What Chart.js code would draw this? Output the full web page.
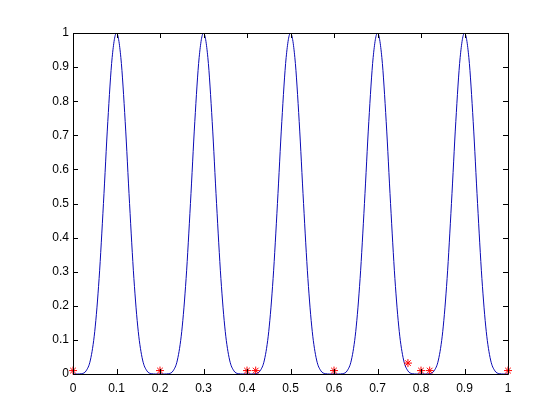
<!DOCTYPE html>
<html>
<head>
<meta charset="utf-8">
<script src="https://cdn.jsdelivr.net/npm/chart.js@4/dist/chart.umd.min.js"></script>
<style>
    body { margin: 0; background: #fff; }
    #wrap { width: 560px; height: 420px; }
</style>
</head>
<body>
<div id="wrap"><canvas id="waveChart" width="560" height="420"></canvas></div>
<script>
// curve samples, step 0.01
const curveX = [
    0, 0.01, 0.02, 0.03, 0.04, 0.05, 0.06, 0.07, 0.08, 0.09,
    0.1, 0.11, 0.12, 0.13, 0.14, 0.15, 0.16, 0.17, 0.18, 0.19,
    0.2, 0.21, 0.22, 0.23, 0.24, 0.25, 0.26, 0.27, 0.28, 0.29,
    0.3, 0.31, 0.32, 0.33, 0.34, 0.35, 0.36, 0.37, 0.38, 0.39,
    0.4, 0.41, 0.42, 0.43, 0.44, 0.45, 0.46, 0.47, 0.48, 0.49,
    0.5, 0.51, 0.52, 0.53, 0.54, 0.55, 0.56, 0.57, 0.58, 0.59,
    0.6, 0.61, 0.62, 0.63, 0.64, 0.65, 0.66, 0.67, 0.68, 0.69,
    0.7, 0.71, 0.72, 0.73, 0.74, 0.75, 0.76, 0.77, 0.78, 0.79,
    0.8, 0.81, 0.82, 0.83, 0.84, 0.85, 0.86, 0.87, 0.88, 0.89,
    0.9, 0.91, 0.92, 0.93, 0.94, 0.95, 0.96, 0.97, 0.98, 0.99,
    1
];
const curveY = [
    0, 0, 0.001, 0.009, 0.041, 0.125, 0.28, 0.5, 0.74, 0.928,
    1, 0.928, 0.74, 0.5, 0.28, 0.125, 0.041, 0.009, 0.001, 0,
    0, 0, 0.001, 0.009, 0.041, 0.125, 0.28, 0.5, 0.74, 0.928,
    1, 0.928, 0.74, 0.5, 0.28, 0.125, 0.041, 0.009, 0.001, 0,
    0, 0, 0.001, 0.009, 0.041, 0.125, 0.28, 0.5, 0.74, 0.928,
    1, 0.928, 0.74, 0.5, 0.28, 0.125, 0.041, 0.009, 0.001, 0,
    0, 0, 0.001, 0.009, 0.041, 0.125, 0.28, 0.5, 0.74, 0.928,
    1, 0.928, 0.74, 0.5, 0.28, 0.125, 0.041, 0.009, 0.001, 0,
    0, 0, 0.001, 0.009, 0.041, 0.125, 0.28, 0.5, 0.74, 0.928,
    1, 0.928, 0.74, 0.5, 0.28, 0.125, 0.041, 0.009, 0.001, 0,
    0
];

// red asterisks near the baseline
const starX = [0, 0.2, 0.4, 0.42, 0.6, 0.77, 0.8, 0.82, 1];
const starY = [0.01, 0.01, 0.01, 0.01, 0.01, 0.032, 0.01, 0.01, 0.01];

const xTicks = [0, 0.1, 0.2, 0.3, 0.4, 0.5, 0.6, 0.7, 0.8, 0.9, 1];
const yTicks = [0, 0.1, 0.2, 0.3, 0.4, 0.5, 0.6, 0.7, 0.8, 0.9, 1];

// matlab style box with inward ticks on all four sides
const boxTicks = {
    id: 'boxTicks',
    afterDraw(chart) {
        const { ctx, chartArea: a, scales } = chart;
        const len = 5;
        ctx.save();
        ctx.strokeStyle = '#000';
        ctx.lineWidth = 1;
        ctx.beginPath();
        ctx.rect(a.left + 0.5, a.top + 0.5, a.right - a.left, a.bottom - a.top);
        xTicks.forEach(v => {
            const px = Math.round(scales.x.getPixelForValue(v)) + 0.5;
            ctx.moveTo(px, a.bottom);
            ctx.lineTo(px, a.bottom - len);
            ctx.moveTo(px, a.top);
            ctx.lineTo(px, a.top + len);
        });
        yTicks.forEach(v => {
            const py = Math.round(scales.y.getPixelForValue(v)) + 0.5;
            ctx.moveTo(a.left, py);
            ctx.lineTo(a.left + len, py);
            ctx.moveTo(a.right, py);
            ctx.lineTo(a.right - len, py);
        });
        ctx.stroke();
        ctx.restore();
    }
};

document.addEventListener("DOMContentLoaded", () => {
    const ctx = document.getElementById('waveChart').getContext('2d');
    const tickFont = { family: 'Liberation Sans, Arial, sans-serif', size: 12 };

    new Chart(ctx, {
        type: 'scatter',
        data: {
            datasets: [{
                data: curveX.map((x, i) => ({ x, y: curveY[i] })),
                showLine: true,
                borderColor: '#0a0ab4',
                borderWidth: 1,
                pointRadius: 0,
                cubicInterpolationMode: 'monotone',
                order: 2
            }, {
                data: starX.map((x, i) => ({ x, y: starY[i] })),
                showLine: false,
                pointStyle: 'star',
                pointRadius: 4,
                borderColor: '#ff0000',
                backgroundColor: '#ff0000',
                pointBorderWidth: 1,
                clip: false,
                order: 1
            }]
        },
        options: {
            responsive: false,
            animation: false,
            events: [],
            layout: { padding: { top: 33, right: 52, left: 0, bottom: 0 } },
            plugins: {
                legend: { display: false },
                tooltip: { enabled: false }
            },
            scales: {
                x: {
                    type: 'linear',
                    min: 0,
                    max: 1,
                    afterFit: s => { s.height = 46; },
                    afterBuildTicks: s => { s.ticks = xTicks.map(v => ({ value: v })); },
                    grid: { display: false, drawTicks: false },
                    border: { display: false },
                    ticks: { color: '#000', font: tickFont, padding: 7, maxRotation: 0, callback: v => String(v) }
                },
                y: {
                    type: 'linear',
                    min: 0,
                    max: 1,
                    afterFit: s => { s.width = 73; },
                    afterBuildTicks: s => { s.ticks = yTicks.map(v => ({ value: v })); },
                    grid: { display: false, drawTicks: false },
                    border: { display: false },
                    ticks: { color: '#000', font: tickFont, padding: 4, callback: v => String(v) }
                }
            }
        },
        plugins: [boxTicks]
    });
});
</script>
</body>
</html>
